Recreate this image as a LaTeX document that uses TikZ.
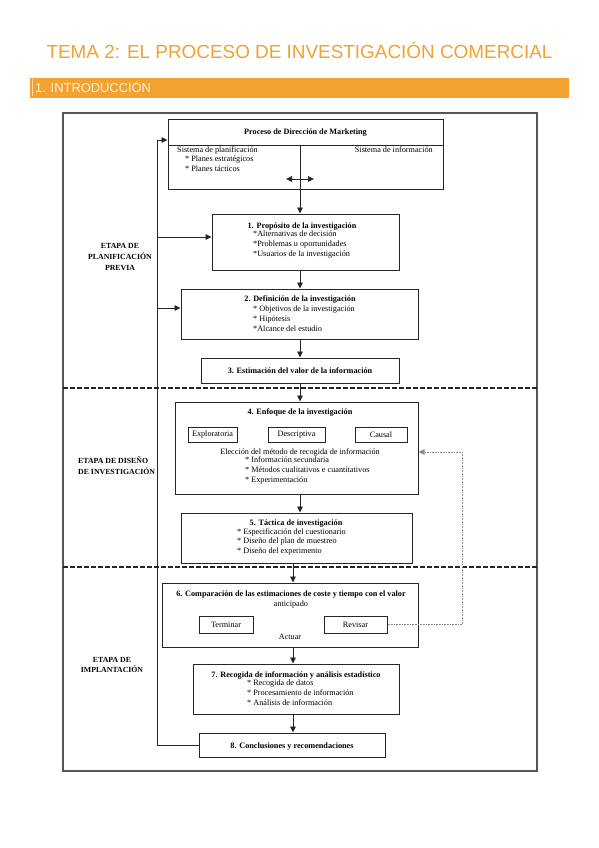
\documentclass[tikz,border=0pt]{standalone}
\usepackage{fontspec}
\setmainfont{Liberation Serif}
\newfontfamily\hdrfont{Liberation Sans}
\usetikzlibrary{arrows.meta}
\definecolor{hdrorange}{RGB}{241,162,48}
\definecolor{hdrtext}{RGB}{252,240,222}
\definecolor{framegray}{RGB}{85,85,85}
\definecolor{dotgray}{RGB}{140,140,140}
\newcommand\mkbox[5]{\node[box, minimum width={#3-#2}, minimum height={#5-#4}] (#1) at ({(#2+#3)/2},{(#4+#5)/2}) {};}
\begin{document}
\begin{tikzpicture}[x=1pt,y=-1pt,
  box/.style={draw=black!85, line width=1pt, inner sep=0pt, fill=white},
  txt/.style={inner sep=0pt, font=\fontsize{8.2}{10}\selectfont},
  btxt/.style={inner sep=0pt, font=\fontsize{8.2}{10}\selectfont\bfseries},
  lbl/.style={inner sep=0pt, font=\fontsize{7.8}{10.8}\selectfont\bfseries},
  tip/.tip={Triangle[length=6pt,width=5.5pt]},
  arr/.style={-tip, line width=0.9pt, black!85},
  plain/.style={line width=0.9pt, black!85},
  sep/.style={line width=1.3pt, dash pattern=on 4.5pt off 2.5pt, black!85},
  fb/.style={-tip, line width=0.6pt, dotgray, densely dotted}
]
\useasboundingbox (0,0) rectangle (599,848);
\fill[white] (0,0) rectangle (599,848);
% header
\node[inner sep=0pt, anchor=base, text=hdrorange, font=\hdrfont\fontsize{18.9}{22}\selectfont] (title) at (299.5,59) {TEMA 2: EL PROCESO DE INVESTIGACIÓN COMERCIAL};
\node[fill=hdrorange, inner sep=0pt, minimum width=539, minimum height=20] (bar) at (299.5,88) {};
\draw[hdrtext!70!hdrorange, line width=0.5pt] (32.5,79.5) -- (32.5,96.5);
\node[inner sep=0pt, anchor=base west, text=hdrtext, font=\hdrfont\fontsize{12.9}{14}\selectfont] (sec) at (35,93) {1. INTRODUCCIÓN};
% outer frame
\node[draw=framegray, line width=1.2pt, minimum width=474, minimum height=658, inner sep=0pt] (frame) at (300,442) {};
% separators
\coordinate (sepL1) at (63,388); \coordinate (sepR1) at (537,388);
\coordinate (sepL2) at (63,567); \coordinate (sepR2) at (537,567);
\draw[sep] (sepL1) -- (sepR1);
\draw[sep] (sepL2) -- (sepR2);
% boxes
\mkbox{P}{168}{443}{120}{189}
\mkbox{B1}{212}{399}{214}{270}
\mkbox{B2}{181}{418}{289}{339}
\mkbox{B3}{201}{399}{358}{383}
\mkbox{B4}{175}{418}{402}{494}
\mkbox{B5}{181}{412}{513}{563}
\mkbox{B6}{162}{418}{583}{647}
\mkbox{B7}{193}{399}{664}{714}
\mkbox{B8}{199}{385}{733}{757}
\node[box, minimum width=49, minimum height=15, font=\fontsize{8.2}{10}\selectfont] (expl) at (212.5,434.5) {Exploratoria};
\node[box, minimum width=57, minimum height=15, font=\fontsize{8.2}{10}\selectfont] (desc) at (296.5,434.5) {Descriptiva};
\node[box, minimum width=52, minimum height=15, font=\fontsize{8.2}{10}\selectfont] (caus) at (381,434.5) {Causal};
\node[box, minimum width=54, minimum height=17, font=\fontsize{8.2}{10}\selectfont] (term) at (226,624.5) {Terminar};
\node[box, minimum width=63, minimum height=17, font=\fontsize{8.2}{10}\selectfont] (revi) at (355.5,624.5) {Revisar};
% Proceso box internals
\coordinate (pdiv) at (300,145);
\draw[plain] (P.west |- pdiv) -- (P.east |- pdiv);
\draw[plain] (pdiv) -- (P.south -| pdiv);
\coordinate (dl) at (286,179); \coordinate (dr) at (314,179);
\draw[tip-tip, line width=0.9pt, black!85] (dl) -- (dr);
\node[btxt, anchor=base] (Pt) at (305.5,135) {Proceso de Dirección de Marketing};
\node[txt, anchor=base west] (Pl1) at (177,152) {Sistema de planificación};
\node[txt, anchor=base west] (Pl2) at (185,161) {* Planes estratégicos};
\node[txt, anchor=base west] (Pl3) at (185,171) {* Planes tácticos};
\node[txt, anchor=base east] (Pr1) at (433,152) {Sistema de información};
% B1
\node[btxt, anchor=base] (B1t) at (302,228) {1. Propósito de la investigación};
\node[txt, anchor=base west] (B1a) at (253,236.5) {*Alternativas de decisión};
\node[txt, anchor=base west] (B1b) at (253,246.5) {*Problemas u oportunidades};
\node[txt, anchor=base west] (B1c) at (253,256.5) {*Usuarios de la investigación};
% B2
\node[btxt, anchor=base] (B2t) at (300,301) {2. Definición de la investigación};
\node[txt, anchor=base west] (B2a) at (253,311) {* Objetivos de la investigación};
\node[txt, anchor=base west] (B2b) at (253,321) {* Hipótesis};
\node[txt, anchor=base west] (B2c) at (253,331) {*Alcance del estudio};
% B3
\node[btxt, anchor=base] (B3t) at (300,373) {3. Estimación del valor de la información};
% B4
\node[btxt, anchor=base] (B4t) at (300,414) {4. Enfoque de la investigación};
\node[txt, anchor=base] (B4m) at (300,454) {Elección del método de recogida de información};
\node[txt, anchor=base west] (B4a) at (245,462.5) {* Información secundaria};
\node[txt, anchor=base west] (B4b) at (245,472) {* Métodos cualitativos e cuantitativos};
\node[txt, anchor=base west] (B4c) at (245,482) {* Experimentación};
% B5
\node[btxt, anchor=base] (B5t) at (296,525) {5. Táctica de investigación};
\node[txt, anchor=base west] (B5a) at (237,534) {* Especificación del cuestionario};
\node[txt, anchor=base west] (B5b) at (237,543.5) {* Diseño del plan de muestreo};
\node[txt, anchor=base west] (B5c) at (237,553) {* Diseño del experimento};
% B6
\node[btxt, anchor=base] (B6t) at (291,596) {6. Comparación de las estimaciones de coste y tiempo con el valor};
\node[txt, anchor=base] (B6u) at (291,606) {anticipado};
\node[txt, anchor=base] (B6v) at (290,639) {Actuar};
% B7
\node[btxt, anchor=base] (B7t) at (296,677) {7. Recogida de información y análisis estadístico};
\node[txt, anchor=base west] (B7a) at (247,685.5) {* Recogida de datos};
\node[txt, anchor=base west] (B7b) at (247,695) {* Procesamiento de información};
\node[txt, anchor=base west] (B7c) at (247,705) {* Análisis de información};
% B8
\node[btxt, anchor=base] (B8t) at (292,748) {8. Conclusiones y recomendaciones};
% stage labels
\node[lbl, align=center] (L1) at (120,257) {ETAPA DE\\PLANIFICACIÓN\\PREVIA};
\node[lbl, align=left, anchor=west] (L2) at (78,466) {ETAPA DE DISEÑO\\DE INVESTIGACIÓN};
\node[lbl, align=center] (L3) at (112,665) {ETAPA DE\\IMPLANTACIÓN};
% main flow
\coordinate (cx1) at (300,0);
\coordinate (cx2) at (293,0);
\draw[arr] (P.south -| cx1) -- (B1.north -| cx1);
\draw[arr] (B1.south -| cx1) -- (B2.north -| cx1);
\draw[arr] (B2.south -| cx1) -- (B3.north -| cx1);
\draw[arr] (B3.south -| cx1) -- (B4.north -| cx1);
\draw[arr] (B4.south -| cx1) -- (B5.north -| cx1);
\draw[arr] (B5.south -| cx2) -- (B6.north -| cx2);
\draw[arr] (B6.south -| cx2) -- (B7.north -| cx2);
\draw[arr] (B7.south -| cx2) -- (B8.north -| cx2);
% feedback line
\coordinate (fbx) at (157,0);
\coordinate (fbtop) at (157,140);
\draw[arr] (B8.west) -- (B8.west -| fbx) -- (fbtop) -- (P.west |- fbtop);
\coordinate (fb1) at (157,237);
\coordinate (fb2) at (157,308);
\draw[arr] (fb1) -- (B1.west |- fb1);
\draw[arr] (fb2) -- (B2.west |- fb2);
% revise loop
\coordinate (rvx) at (462,0);
\coordinate (rvy) at (0,452);
\draw[fb] (revi.east) -- (revi.east -| rvx) -- (rvx |- rvy) -- (B4.east |- rvy);
\end{tikzpicture}
\end{document}
